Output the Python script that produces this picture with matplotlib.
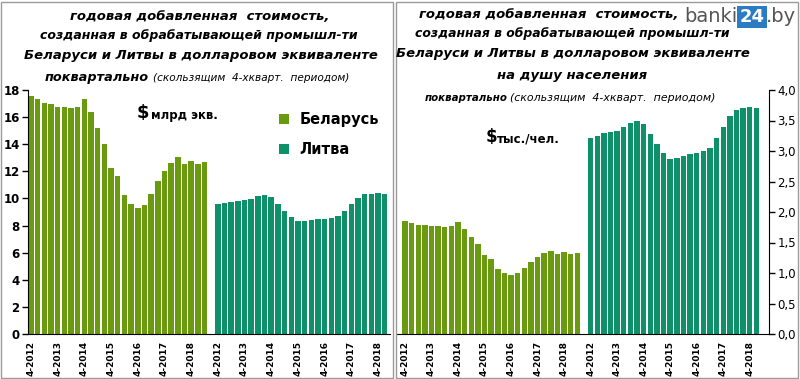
import numpy as np
import matplotlib
matplotlib.use("Agg")
import matplotlib.pyplot as plt
from matplotlib.patches import Rectangle

# quarters 4-2012 .. 2-2019
belarus_bn = [17.56, 17.34, 17.04, 16.94, 16.75, 16.75, 16.70, 16.75, 17.34, 16.38,
              15.20, 14.02, 12.25, 11.66, 10.25, 9.59, 9.29, 9.52, 10.33, 11.29,
              12.02, 12.61, 13.06, 12.54, 12.76, 12.54, 12.69]
# 4-2012 .. 1-2019
lithuania_bn = [9.59, 9.66, 9.74, 9.81, 9.88, 9.96, 10.18, 10.25, 10.11, 9.59,
                9.07, 8.63, 8.34, 8.34, 8.41, 8.48, 8.48, 8.56, 8.70, 9.07,
                9.59, 10.03, 10.33, 10.33, 10.40, 10.33]
belarus_pc = [1.85, 1.82, 1.79, 1.79, 1.77, 1.77, 1.75, 1.77, 1.84, 1.72,
              1.59, 1.48, 1.30, 1.23, 1.07, 1.00, 0.97, 1.00, 1.08, 1.18,
              1.26, 1.33, 1.36, 1.31, 1.34, 1.31, 1.33]
lithuania_pc = [3.21, 3.25, 3.30, 3.31, 3.33, 3.39, 3.46, 3.49, 3.44, 3.28,
                3.12, 2.97, 2.87, 2.89, 2.92, 2.95, 2.97, 3.00, 3.05, 3.21,
                3.39, 3.57, 3.67, 3.71, 3.72, 3.71]
tick_labels = ["4-2012", "4-2013", "4-2014", "4-2015", "4-2016", "4-2017", "4-2018"]

green = "#6a9a10"
teal = "#0e9168"
W, H = 800, 379

x_by = np.arange(len(belarus_bn))
x_lt = np.arange(len(lithuania_bn)) + len(belarus_bn) + 1
tick_pos = list(range(0, 25, 4)) + list(range(28, 53, 4))

fig = plt.figure(figsize=(8, 3.79), dpi=100)

def px_axes(x0, y0, x1, y1):
    return fig.add_axes([x0 / W, 1 - y1 / H, (x1 - x0) / W, (y1 - y0) / H])

def fy(y):
    return 1 - y / H

def style(ax):
    ax.set_xticks(tick_pos)
    ax.set_xticklabels(tick_labels * 2, rotation=90, fontsize=6.5,
                       fontweight="bold", family="DejaVu Sans")
    ax.tick_params(axis="x", length=0, pad=5)
    ax.tick_params(axis="y", length=4, width=1, direction="out", pad=2)
    ax.spines["top"].set_visible(False)
    ax.patch.set_alpha(0)

# left panel
ax1 = px_axes(28, 90, 390, 334)
ax1.bar(x_by, belarus_bn, width=0.82, color=green, label="Беларусь")
ax1.bar(x_lt, lithuania_bn, width=0.82, color=teal, label="Литва")
ax1.set_xlim(-0.45, 53.8)
ax1.set_ylim(0, 18)
ax1.set_yticks(range(0, 19, 2))
style(ax1)
ax1.spines["right"].set_visible(False)
for t in ax1.get_yticklabels():
    t.set_fontweight("bold")
    t.set_fontsize(8.5)
ax1.legend(loc="upper left", bbox_to_anchor=(266 / W, fy(99)),
           bbox_transform=fig.transFigure, frameon=False,
           handlelength=0.7, handleheight=0.7, handletextpad=0.7,
           labelspacing=1.0, prop={"weight": "bold", "size": 10.5})

# right panel
ax2 = px_axes(397, 90, 769, 334)
ax2.bar(x_by, belarus_pc, width=0.82, color=green)
ax2.bar(x_lt, lithuania_pc, width=0.82, color=teal)
ax2.set_xlim(-1.2, 54.9)
ax2.set_ylim(0, 4)
ax2.yaxis.tick_right()
ax2.set_yticks(np.arange(0, 4.01, 0.5))
ax2.set_yticklabels([f"{v:.1f}".replace(".", ",") for v in np.arange(0, 4.01, 0.5)],
                    fontsize=8.5)
style(ax2)
ax2.spines["left"].set_visible(False)

# titles
tk = dict(ha="center", va="center", fontweight="bold", style="italic",
          family="DejaVu Sans")
lk = dict(ha="left", va="center", style="italic", family="DejaVu Sans")
fig.text(200 / W, fy(16), "годовая добавленная  стоимость,", fontsize=9.5, **tk)
fig.text(199 / W, fy(35), "созданная в обрабатывающей промышл-ти", fontsize=9, **tk)
fig.text(201 / W, fy(56), "Беларуси и Литвы в долларовом эквиваленте", fontsize=9.5, **tk)
fig.text(45 / W, fy(77), "поквартально", fontsize=9.3, fontweight="bold", **lk)
fig.text(153 / W, fy(78), "(скользящим  4-хкварт.  периодом)", fontsize=7.6, **lk)

fig.text(549 / W, fy(15), "годовая добавленная  стоимость,", fontsize=9.5, **tk)
fig.text(572 / W, fy(33), "созданная в обрабатывающей промышл-ти", fontsize=8.9, **tk)
fig.text(573 / W, fy(54), "Беларуси и Литвы в долларовом эквиваленте", fontsize=9.5, **tk)
fig.text(572 / W, fy(75), "на душу населения", fontsize=9.5, **tk)
fig.text(425 / W, fy(98), "поквартально", fontsize=7.4, fontweight="bold", **lk)
fig.text(510 / W, fy(98), "(скользящим  4-хкварт.  периодом)", fontsize=7.9, **lk)

# units
fig.text(137 / W, fy(113), "$", fontsize=13, fontweight="bold", va="center")
fig.text(151 / W, fy(115), "млрд экв.", fontsize=8.5, fontweight="bold", va="center")
fig.text(486 / W, fy(137), "$", fontsize=12, fontweight="bold", va="center")
fig.text(497 / W, fy(139), "тыс./чел.", fontsize=8.5, fontweight="bold", va="center")

# logo
fig.text(737 / W, fy(17), "banki", fontsize=14, color="#555555", va="center",
         ha="right", family="DejaVu Sans")
fig.text(752 / W, fy(17), "24", fontsize=13, color="white", fontweight="bold",
         va="center", ha="center",
         bbox=dict(boxstyle="square,pad=0.12", fc="#2c7cc4", ec="none"))
fig.text(766 / W, fy(17), ".by", fontsize=14, color="#555555", va="center",
         ha="left", family="DejaVu Sans")

# panel borders
fig.patches.append(Rectangle((1 / W, 1 / H), 392 / W, 376 / H, transform=fig.transFigure,
                             fill=False, ec="#9a9a9a", lw=1))
fig.patches.append(Rectangle((396 / W, 1 / H), 402 / W, 376 / H, transform=fig.transFigure,
                             fill=False, ec="#9a9a9a", lw=1))

fig.savefig("out.png", dpi=100)
